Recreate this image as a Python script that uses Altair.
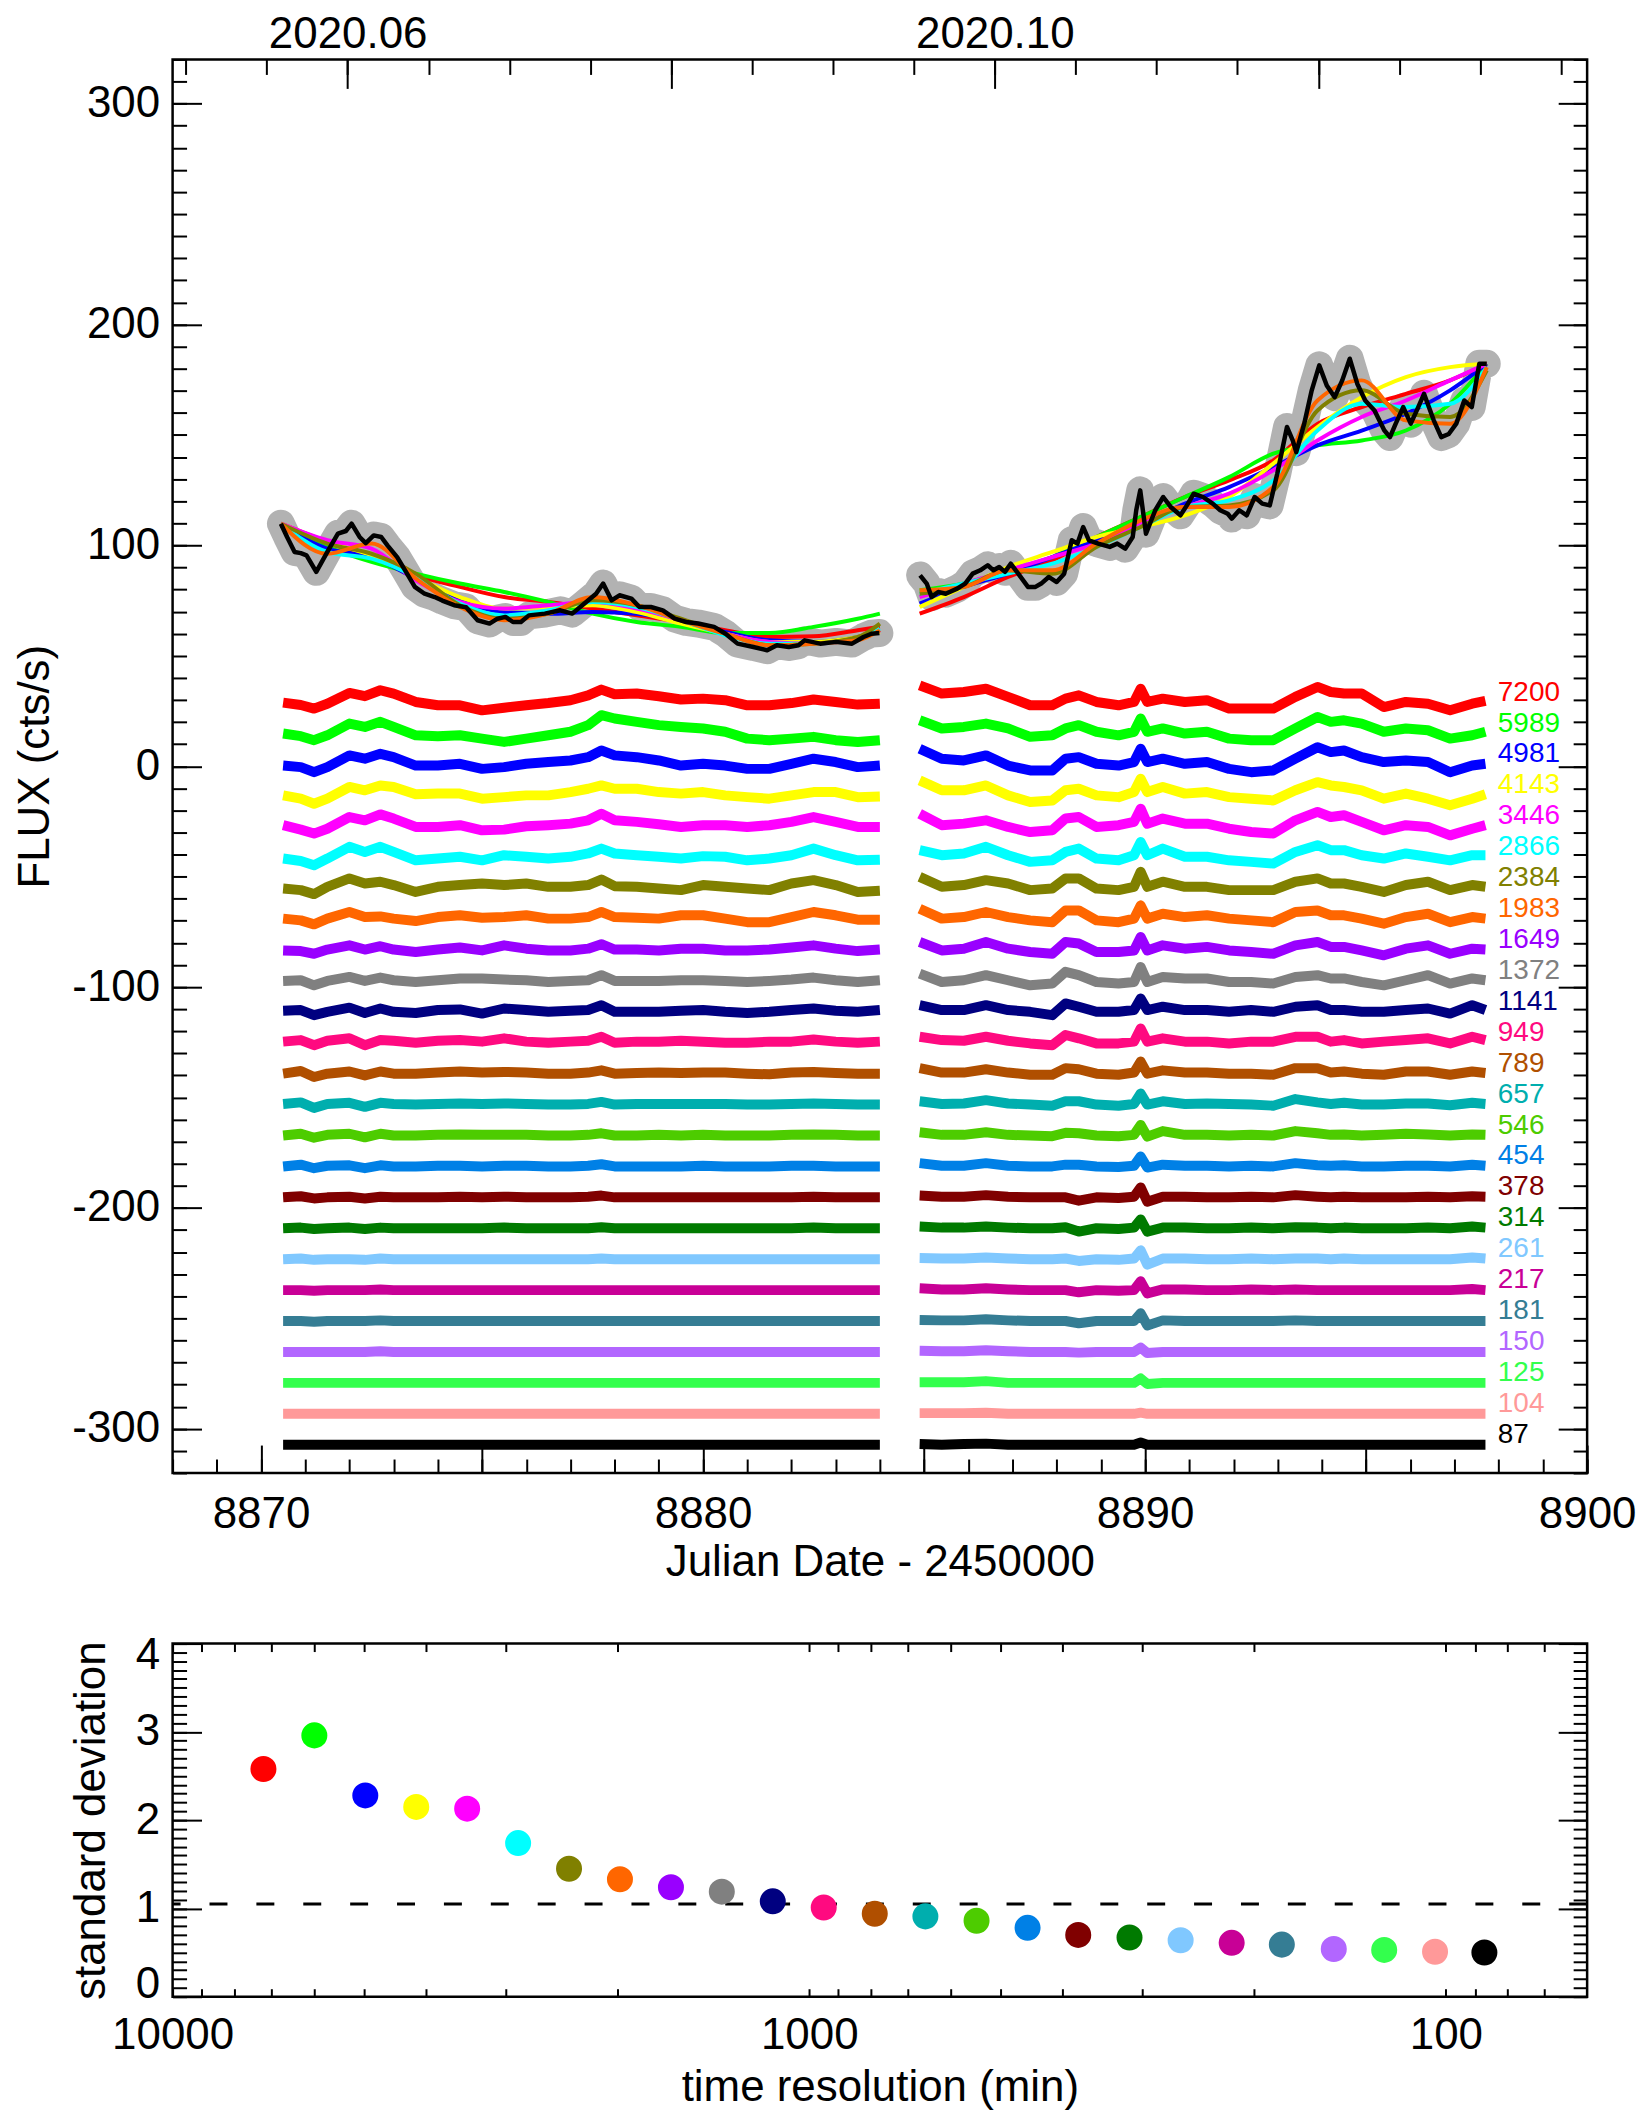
import altair as alt
import pandas as pd

FONT = "Liberation Sans"

# ---------------- data ----------------
RES = [7200, 5989, 4981, 4143, 3446, 2866, 2384, 1983, 1649, 1372, 1141, 949, 789,
       657, 546, 454, 378, 314, 261, 217, 181, 150, 125, 104, 87]
COLORS = ["#ff0000", "#00ff00", "#0000ff", "#ffff00", "#ff00ff", "#00ffff", "#808000",
          "#ff6600", "#9900ff", "#808080", "#000080", "#ff0a80", "#b04f00", "#00aeae",
          "#4dcc00", "#0080e6", "#800000", "#007a00", "#80c8ff", "#c80096", "#357d94",
          "#b266ff", "#33ff4d", "#ff9999", "#000000"]
OFFSETS = [28.8, 14.8, 0.8, -13.2, -27.2, -41.2, -55.2, -69.2, -83.2, -97.2, -111.2,
           -125.2, -139.2, -153.2, -167.2, -181.2, -195.2, -209.2, -223.2, -237.2,
           -251.2, -265.2, -279.2, -293.2, -307.2]
STD = [2.58, 2.96, 2.28, 2.15, 2.13, 1.74, 1.45, 1.33, 1.24, 1.19, 1.08, 1.01, 0.94,
       0.91, 0.86, 0.78, 0.70, 0.67, 0.64, 0.61, 0.59, 0.54, 0.53, 0.51, 0.50]
STD_LEVEL = 1.05

# black light curve (two observing segments)
LC_L_T = [8870.45, 8870.59, 8870.76, 8870.9, 8871.03, 8871.25, 8871.52, 8871.74, 8871.92,
          8872.05, 8872.23, 8872.37, 8872.55, 8872.72, 8872.86, 8873.08, 8873.26, 8873.48,
          8873.70, 8873.93, 8874.1, 8874.37, 8874.64, 8874.9, 8875.17, 8875.35, 8875.53,
          8875.7, 8875.88, 8876.06, 8876.42, 8876.77, 8877.04, 8877.31, 8877.58, 8877.74,
          8877.93, 8878.11, 8878.38, 8878.56, 8878.82, 8879.09, 8879.36, 8879.62, 8879.89,
          8880.25, 8880.51, 8880.78, 8881.14, 8881.45, 8881.67, 8881.94, 8882.16, 8882.3,
          8882.65, 8883.01, 8883.37, 8883.63, 8883.81, 8883.99]
LC_L_V = [109.8, 103.8, 97.0, 96.5, 95.5, 88.0, 97.7, 105.3, 106.5,
          109.8, 103.8, 101.0, 104.5, 103.8, 100.0, 94.7, 88.7, 81.2,
          78.1, 76.6, 75.0, 72.9, 72.0, 66.1, 64.6, 66.8, 67.6,
          65.3, 65.3, 68.3, 69.1, 70.6, 69.1, 73.6, 78.1, 82.7,
          75.1, 77.4, 75.9, 72.1, 72.1, 70.6, 66.8, 65.3, 64.6,
          63.1, 60.0, 55.5, 54.0, 52.5, 54.8, 54.0, 54.8, 57.0,
          55.5, 56.3, 55.5, 58.5, 60.0, 60.3]
LC_R_T = [8884.91, 8885.06, 8885.17, 8885.32, 8885.49, 8885.75, 8885.93, 8886.1, 8886.27,
          8886.44, 8886.57, 8886.7, 8886.83, 8886.96, 8887.13, 8887.35, 8887.52, 8887.65,
          8887.82, 8888.0, 8888.17, 8888.34, 8888.47, 8888.6, 8888.73, 8888.94, 8889.2,
          8889.37, 8889.55, 8889.72, 8889.8, 8889.89, 8890.02, 8890.23, 8890.41, 8890.58,
          8890.8, 8890.97, 8891.1, 8891.31, 8891.53, 8891.7, 8891.87, 8891.96, 8892.13,
          8892.3, 8892.48, 8892.65, 8892.82, 8892.99, 8893.21, 8893.34, 8893.42, 8893.6,
          8893.77, 8893.94, 8894.11, 8894.29, 8894.46, 8894.63, 8894.8, 8894.98, 8895.19,
          8895.41, 8895.54, 8895.67, 8895.84, 8896.01, 8896.18, 8896.31, 8896.53, 8896.7,
          8896.87, 8897.04, 8897.22, 8897.39, 8897.56, 8897.73]
LC_R_V = [86.4, 82.7, 76.6, 78.9, 78.1, 80.4, 82.7, 87.2, 88.7,
          91.0, 88.7, 90.2, 88.0, 91.7, 87.2, 81.2, 81.2, 82.7,
          85.7, 83.4, 87.2, 102.3, 100.8, 108.3, 102.3, 100.8, 99.3,
          100.8, 98.5, 103.8, 115.9, 124.9, 105.3, 115.9, 121.9, 117.4,
          113.6, 118.9, 123.4, 121.9, 118.9, 115.9, 114.3, 112.1, 115.9,
          113.6, 121.9, 118.9, 118.1, 132.4, 153.6, 147.5, 142.2, 155.1,
          170.2, 181.5, 172.4, 167.1, 174.7, 184.5, 173.2, 165.6, 161.1,
          152.1, 149.0, 155.1, 162.6, 155.1, 162.6, 168.6, 156.6, 149.0,
          150.4, 155.1, 165.6, 162.6, 182.2, 182.2]

# smooth fits of the longest time resolutions
FIT_RES = [7200, 5989, 4981, 4143, 3446, 2866, 2384, 1983]
FIT_L_T = [8870.45, 8871.5, 8872.5, 8873.5, 8874.5, 8875.5, 8876.5, 8877.5, 8878.5,
           8879.5, 8880.5, 8881.5, 8882.5, 8883.5, 8884.0]
FIT_L = [
    [109.8, 101.5, 94.0, 86.4, 81.2, 76.6, 74.4, 71.4, 68.3, 65.3, 61.6, 58.5, 58.8, 61.6, 63.1],
    [109.0, 99.3, 92.5, 87.2, 82.7, 78.9, 74.4, 69.1, 65.3, 63.1, 60.3, 60.3, 63.1, 66.8, 69.1],
    [109.0, 98.5, 94.7, 85.0, 75.0, 69.8, 69.0, 69.8, 69.0, 65.3, 60.8, 57.0, 56.3, 58.5, 61.6],
    [109.8, 101.5, 95.5, 85.7, 76.6, 71.4, 72.1, 72.9, 69.8, 64.6, 60.0, 56.3, 56.3, 58.5, 60.8],
    [109.8, 102.3, 98.5, 84.2, 74.4, 71.4, 72.9, 74.4, 71.4, 66.1, 60.0, 56.3, 55.5, 57.8, 61.6],
    [109.8, 97.0, 94.0, 85.7, 73.6, 68.3, 70.6, 74.4, 72.1, 66.1, 59.3, 55.5, 55.5, 57.8, 62.3],
    [109.8, 100.8, 96.2, 87.2, 72.9, 66.8, 69.1, 75.1, 72.9, 66.8, 60.0, 54.8, 55.5, 58.5, 64.6],
    [109.8, 96.2, 100.8, 85.0, 72.1, 66.1, 69.1, 76.6, 72.9, 66.1, 60.0, 54.8, 55.5, 57.0, 61.6],
]
FIT_R_T = [8884.9, 8885.9, 8886.9, 8887.9, 8888.9, 8889.9, 8890.9, 8891.9, 8892.9,
           8893.9, 8894.9, 8895.9, 8896.9, 8897.73]
FIT_R = [
    [69.1, 76.6, 85.7, 93.2, 103.8, 112.8, 121.9, 129.4, 138.5, 155.0, 162.6, 168.6, 174.7, 182.2],
    [79.7, 82.7, 88.7, 94.7, 103.8, 112.8, 121.9, 130.9, 141.5, 145.3, 147.5, 152.0, 164.1, 182.2],
    [73.6, 81.2, 87.2, 94.7, 102.3, 109.8, 118.9, 126.4, 135.5, 145.3, 152.0, 159.6, 170.2, 182.2],
    [72.1, 81.2, 90.2, 97.0, 103.8, 108.3, 113.6, 121.9, 137.0, 153.6, 167.1, 176.2, 180.7, 182.2],
    [76.6, 82.7, 88.7, 94.7, 100.8, 109.8, 117.4, 123.4, 134.0, 147.5, 158.1, 165.6, 174.7, 182.2],
    [78.1, 82.7, 87.2, 91.7, 99.3, 108.3, 117.4, 120.4, 129.4, 152.0, 164.1, 162.6, 164.1, 180.7],
    [78.1, 81.2, 88.7, 87.2, 99.3, 108.3, 117.4, 118.1, 124.9, 161.1, 170.2, 159.6, 158.1, 179.2],
    [79.7, 81.2, 88.7, 88.7, 100.8, 111.3, 117.4, 117.4, 126.4, 165.6, 174.7, 156.6, 155.1, 180.7],
]

# residuals (light curve minus fit), one row per time resolution
RES_L_T = [8870.5, 8870.9, 8871.2, 8871.5, 8872.0, 8872.35, 8872.7, 8873.0, 8873.5, 8874.0,
           8874.5, 8875.0, 8875.5, 8876.0, 8876.5, 8877.0, 8877.4, 8877.7, 8878.0, 8878.5,
           8879.0, 8879.5, 8880.0, 8880.5, 8881.0, 8881.5, 8882.0, 8882.5, 8883.0, 8883.5,
           8884.0]
RES_L = [
    [0, -1.1, -2.7, -0.5, 4.4, 2.9, 5.6, 4.1, 0.3, -1.2, -1.2, -3.5, -2.3, -1.2, -0.2, 1.1, 3.3, 5.9, 3.8, 4.1, 2.9, 1.4, 1.8, 1.1, -1.2, -1.2, -0.2, 1.4, 0.3, -0.9, -0.5],
    [0, -1.2, -3.0, -0.8, 4.5, 3.0, 5.3, 3.0, -0.8, -1.2, -0.8, -2.3, -3.8, -2.3, -0.8, 0.8, 3.8, 8.3, 6.8, 5.3, 3.8, 3.0, 2.3, 0.8, -2.3, -3.0, -2.3, -1.5, -3.0, -3.8, -3.0],
    [-0.5, -1.2, -3.5, -1.2, 4.1, 2.6, 4.8, 3.3, -0.5, -0.5, 0.3, -2.0, -1.2, 0.3, 1.1, 1.8, 3.3, 6.3, 4.1, 3.3, 1.8, -0.5, 0.3, -0.5, -2.0, -2.0, 0.3, 2.6, 1.1, -1.2, -0.5],
    [0, -1.5, -3.8, -1.5, 3.8, 2.3, 4.5, 3.8, 0.5, 0.8, 0.8, -1.5, -0.8, 0, 0, 1.5, 3.0, 4.5, 3.0, 3.0, 1.5, 0.8, 1.5, 0, -0.8, -1.5, 0, 1.5, 1.5, -0.8, -0.5],
    [0.5, -1.5, -3.3, -1.1, 4.2, 2.7, 5.4, 3.5, -0.3, -0.3, 0.5, -1.8, -1.5, 0, 0.5, 1.2, 2.7, 5.7, 2.7, 2.0, 0.9, -0.3, 0.5, 0.5, -0.3, 0.5, 2.0, 4.2, 2.0, -0.3, -0.3],
    [-0.6, -1.7, -3.6, -0.6, 4.7, 2.4, 4.7, 2.4, -1.4, -0.6, 0.2, -1.4, 0.9, 0.2, -0.6, 0.2, 1.7, 3.9, 1.7, 0.9, 0.2, -0.6, 0.5, 0.2, -1.4, -0.6, 0.9, 3.9, 0.9, -1.4, -1.1],
    [-0.2, -0.9, -2.7, 0.6, 4.4, 2.1, 2.9, 1.4, -1.7, 0.6, 1.4, 2.1, 1.4, 2.1, 0.6, 0.6, 1.4, 3.9, 0.9, 0.6, -0.2, -0.9, 1.4, 0.6, -0.2, -0.9, 2.1, 3.6, 1.4, -1.7, -1.2],
    [0.2, -0.6, -2.4, 0.2, 3.2, 0.9, 1.2, 0.2, -0.9, 0.9, 1.7, 0.6, 0.9, 1.7, 0.2, 0.2, 0.9, 3.2, 0.9, 0.6, 0.2, 1.7, 1.7, 0.2, -1.4, -1.4, 0.9, 3.2, 1.7, -0.3, -0.3],
    [-0.2, -0.5, -1.7, 0.2, 2.1, 0.2, 1.7, 0.2, -0.9, 0.2, 1.1, -0.2, 2.1, 0.6, -0.2, -0.2, 0.6, 2.6, 0.2, 0.2, -0.2, 0.6, 0.6, -0.2, -0.2, 0.2, 1.1, 2.1, 0.6, -0.5, 0.2],
    [0, 0.3, -2.0, 0, 1.8, 0, 1.5, 0.3, -0.5, 0.3, 1.1, 1.1, 0.6, 0.3, -0.5, 0, 0.3, 2.6, 0, 0, 0, 0.3, 0.3, 0, -0.5, 0, 0.6, 1.5, 0.3, -0.5, 0.3],
    [0.5, 0.8, -1.5, 0, 1.9, -0.5, 1.5, 0, -0.5, 0.8, 1.1, -0.8, 1.5, 0.8, 0, 0.5, 0.8, 3.0, 0, 0, 0, 0.5, 0.8, 0, -0.5, 0, 0.8, 1.5, 0.5, 0, 0.8],
    [0.5, 1.2, -1.1, 0.9, 2.0, -1.1, 1.2, 0.9, 0, 0.9, 1.2, 0.5, 2.0, 0.5, 0, 0.5, 0.9, 2.7, 0, 0.5, 0.5, 0.9, 0.5, 0, 0, 0.5, 0.5, 1.5, 0.5, 0, 0.5],
    [0, 1.2, -1.5, 0, 1.0, -0.8, 1.0, 0, 0, 0.5, 1.0, 0.5, 0.8, 0.5, 0, 0, 0.5, 1.5, 0, 0.3, 0.5, 0.3, 0.5, 0.5, 0, -0.3, 0.5, 0.8, 0.3, 0, 0],
    [0.3, 1.0, -1.5, 0.3, 0.8, -1.0, 0.8, 0.3, 0, 0.3, 0.5, 0.3, 0.5, 0.3, 0, 0, 0.3, 1.2, 0, 0.3, 0.3, 0.3, 0.3, 0.3, 0, 0, 0.3, 0.5, 0.3, 0, 0],
    [0, 0.8, -1.0, 0.3, 0.8, -0.8, 0.8, 0, 0, 0.3, 0.5, 0.3, 0.3, 0.3, 0, 0, 0.3, 1.0, 0, 0, 0.3, 0, 0.3, 0, 0, 0, 0.3, 0.5, 0.3, 0, 0],
    [0, 0.8, -0.8, 0.3, 0.5, -0.8, 0.5, 0, 0, 0.3, 0.3, 0, 0.3, 0.3, 0, 0, 0.3, 1.0, 0, 0, 0, 0, 0.3, 0, 0, 0, 0.3, 0.3, 0, 0, 0],
    [0, 0.5, -0.5, 0, 0.3, -0.5, 0.3, 0, 0, 0, 0.3, 0, 0.3, 0, 0, 0, 0.3, 0.8, 0, 0, 0, 0, 0, 0, 0, 0, 0, 0.3, 0, 0, 0],
    [0, 0.3, -0.3, 0, 0.3, -0.3, 0.3, 0, 0, 0, 0, 0, 0.3, 0, 0, 0, 0, 0.5, 0, 0, 0, 0, 0, 0, 0, 0, 0, 0.3, 0, 0, 0],
    [0, 0.3, -0.3, 0, 0, -0.3, 0.3, 0, 0, 0, 0, 0, 0, 0, 0, 0, 0, 0.3, 0, 0, 0, 0, 0, 0, 0, 0, 0, 0, 0, 0, 0],
    [0, 0, -0.3, 0, 0, 0, 0.3, 0, 0, 0, 0, 0, 0, 0, 0, 0, 0, 0, 0, 0, 0, 0, 0, 0, 0, 0, 0, 0, 0, 0, 0],
    [0, 0, -0.3, 0, 0, 0, 0.3, 0, 0, 0, 0, 0, 0, 0, 0, 0, 0, 0, 0, 0, 0, 0, 0, 0, 0, 0, 0, 0, 0, 0, 0],
    [0, 0, 0, 0, 0, 0, 0.3, 0, 0, 0, 0, 0, 0, 0, 0, 0, 0, 0, 0, 0, 0, 0, 0, 0, 0, 0, 0, 0, 0, 0, 0],
    [0, 0, 0, 0, 0, 0, 0, 0, 0, 0, 0, 0, 0, 0, 0, 0, 0, 0, 0, 0, 0, 0, 0, 0, 0, 0, 0, 0, 0, 0, 0],
    [0, 0, 0, 0, 0, 0, 0, 0, 0, 0, 0, 0, 0, 0, 0, 0, 0, 0, 0, 0, 0, 0, 0, 0, 0, 0, 0, 0, 0, 0, 0],
    [0, 0, 0, 0, 0, 0, 0, 0, 0, 0, 0, 0, 0, 0, 0, 0, 0, 0, 0, 0, 0, 0, 0, 0, 0, 0, 0, 0, 0, 0, 0],
]
RES_R_T = [8884.9, 8885.4, 8885.9, 8886.4, 8886.9, 8887.4, 8887.9, 8888.2, 8888.5, 8888.9,
           8889.4, 8889.75, 8889.9, 8890.05, 8890.4, 8890.9, 8891.4, 8891.9, 8892.4, 8892.9,
           8893.4, 8893.9, 8894.2, 8894.5, 8894.9, 8895.4, 8895.9, 8896.4, 8896.9, 8897.4,
           8897.7]
RES_R = [
    [7.8, 4.1, 4.8, 6.3, 2.6, -1.2, -1.2, 1.8, 3.3, 0.3, -1.2, 0.3, 6.3, 0.3, 1.8, 0.3, 1.1, -2.7, -2.7, -2.7, 2.6, 7.1, 4.8, 4.1, 4.1, -2.0, 0.3, -0.5, -3.5, -0.5, 0.8],
    [6.0, 2.3, 3.0, 4.5, 2.3, -1.5, -0.8, 2.3, 3.8, 0.8, -0.8, 0.8, 6.8, 0.8, 2.3, 0, 0.8, -2.3, -3.0, -3.0, 2.3, 7.5, 5.3, 6.0, 4.5, 0.8, 2.3, 1.5, -2.3, -0.8, 0.8],
    [7.1, 2.6, 1.8, 4.1, -0.5, -2.7, -2.7, 2.6, 3.3, 0.3, -0.5, 1.1, 7.1, 1.1, 2.6, 0.3, 1.1, -2.0, -3.5, -2.7, 2.6, 7.8, 5.6, 6.3, 3.3, 1.1, 1.8, 1.1, -3.5, -0.5, 0.3],
    [6.8, 2.3, 2.3, 4.5, 0, -3.0, -2.3, 2.3, 3.0, 0, -0.8, 1.5, 7.5, 1.5, 3.8, 0.8, 1.5, -0.8, -1.5, -2.3, 2.3, 6.0, 4.5, 3.8, 2.3, -1.5, 0.8, -1.5, -4.5, -1.5, 0.5],
    [5.7, 0.5, 1.2, 2.7, -0.3, -2.6, -1.8, 3.5, 4.2, -0.3, 0.5, 2.0, 8.0, 1.2, 3.5, 1.2, 1.2, -1.1, -2.6, -3.3, 2.7, 6.5, 4.2, 5.0, 2.0, -1.8, 0.5, -0.3, -4.1, -1.1, 0.5],
    [3.2, 0.9, 1.7, 4.7, 0.9, -2.1, -1.4, 2.4, 3.9, -0.6, -1.4, 0.9, 6.9, 0.9, 3.9, 0.2, 0.2, -1.4, -2.1, -2.9, 2.4, 5.4, 3.2, 3.2, 0.9, -0.6, 1.7, 0.2, -1.4, 0.9, 0.9],
    [5.1, 0.6, 1.4, 3.6, 2.1, -0.9, -0.2, 4.4, 4.4, -0.2, -0.9, 0.6, 7.4, 0.6, 2.9, 0.6, 0.6, -0.9, -0.9, -0.9, 2.9, 4.4, 2.1, 2.1, 0.6, -1.7, 1.4, 2.9, -0.9, 1.4, 0.6],
    [4.7, 0.2, 0.9, 3.2, 0.9, -0.6, -1.4, 3.9, 3.9, -0.6, -1.4, 0.2, 6.2, 0.2, 2.4, 0.9, 1.7, 0.2, -0.6, -1.4, 3.2, 3.9, 1.7, 1.7, 0.2, -2.1, 0.9, 2.4, -1.4, 0.9, 0.2],
    [3.6, -0.2, 0.6, 3.6, 0.6, -0.9, -1.7, 3.6, 2.9, -0.9, -0.9, -0.2, 5.9, -0.2, 2.1, 0.6, 1.4, -0.2, -0.9, -1.7, 2.1, 3.6, 1.4, 1.4, -0.2, -2.4, 0.6, 2.1, -1.7, 0.6, 0.2],
    [3.3, -0.5, 0.3, 2.6, 0.3, -2.0, -1.2, 4.1, 2.6, -0.5, -1.2, -0.5, 6.3, -0.5, 1.8, 1.1, 1.1, -0.5, -0.5, -1.2, 1.8, 2.6, 1.1, 1.1, -0.5, -2.0, 0.3, 2.6, -1.2, 1.1, 0.3],
    [3.0, 0.8, 0.8, 3.0, 0.8, 0, -1.5, 3.8, 2.3, 0, 0, 0.8, 6.0, 0.8, 2.3, 0.8, 0.8, 0, 0.8, 0, 2.3, 3.0, 0.8, 0.8, 0, 0, 0.8, 1.5, -0.8, 3.0, 0.8],
    [2.7, 1.2, 0.9, 2.7, 0.9, -0.3, -1.1, 3.5, 2.0, -0.3, -0.3, 0.5, 6.5, 0.5, 2.0, 0.5, 0.5, -0.3, 0.5, 0.5, 2.7, 2.7, 0.5, 1.2, -0.3, 0.5, 1.2, 2.0, -0.3, 2.7, 1.2],
    [2.5, 0.5, 0.5, 2.0, 0.5, -0.5, -0.5, 2.5, 2.0, 0, -0.5, 0.5, 5.5, 0, 1.5, 0.5, 0.5, 0, 0, -0.5, 2.5, 2.5, 0.5, 1.0, 0, -0.5, 1.0, 1.0, -0.5, 1.0, 0.3],
    [1.5, 0.3, 0.5, 2.0, 0.5, 0, -0.5, 1.5, 1.5, 0, -0.5, 0.3, 5.0, 0, 1.5, 0.3, 0.5, 0.3, 0, -0.5, 2.5, 1.0, 0.3, 0.8, 0, 0, 0.5, 0.5, -0.3, 0.8, 0.3],
    [1.5, 0.3, 0.3, 1.5, 0.3, 0, -0.3, 1.2, 1.0, 0, -0.3, 0.3, 4.8, -0.5, 2.0, 0.3, 0.3, 0, 0.3, 0, 2.0, 1.0, 0.3, 0.5, 0, 0.3, 0.8, 0.5, 0, 0.5, 0.3],
    [1.5, 0.3, 0.3, 1.5, 0.3, 0, 0, 0.8, 0.8, 0, -0.3, 0.3, 4.5, -0.5, 0.8, 0.3, 0.3, 0, 0.3, 0, 1.5, 0.5, 0.3, 0.5, 0, 0, 0.3, 0.3, 0, 0.8, 0.3],
    [0.8, 0.3, 0.3, 1.0, 0.3, 0, 0, 0, -1.5, 0, -0.3, 0.3, 4.5, -2.0, 0.3, 0.3, 0, 0, 0.3, 0, 1.0, 0.3, 0, 0.3, 0, 0, 0, 0.3, 0, 0.5, 0.3],
    [0.8, 0.3, 0.3, 0.8, 0.3, 0, 0, 0.5, -1.5, 0, -0.3, 0.3, 4.0, -1.5, 0.3, 0.3, 0, 0, 0.3, 0, 0.5, 0.3, 0, 0.3, 0, 0, 0, 0.3, 0, 0.8, 0.3],
    [0.5, 0.3, 0.3, 0.8, 0.3, 0, 0, 0.3, -0.8, 0, -0.3, 0.3, 4.0, -2.5, 0.3, 0.3, 0, 0, 0.3, 0, 0.3, 0.3, 0, 0.3, 0, 0, 0, 0, 0, 0.8, 0.3],
    [0.8, 0.3, 0.3, 0.8, 0.3, 0, 0, 0, -1.0, 0, -0.3, 0, 4.0, -1.5, 0.3, 0.3, 0, 0, 0.3, 0, 0.3, 0, 0, 0, 0, 0, 0, 0, 0, 0.5, 0],
    [0.5, 0.3, 0.3, 0.8, 0.3, 0, 0, 0, -1.0, 0, 0, 0, 3.5, -2.0, 0.3, 0, 0, 0, 0, 0, 0.3, 0, 0, 0, 0, 0, 0, 0, 0, 0, 0],
    [0.5, 0.3, 0.3, 0.8, 0.3, 0, 0, 0, -0.3, 0, 0, 0, 2.0, -0.5, 0, 0, 0, 0, 0, 0, 0, 0, 0, 0, 0, 0, 0, 0, 0, 0, 0],
    [0.3, 0.3, 0.3, 0.8, 0, 0, 0, 0, 0, 0, 0, 0, 2.0, -0.5, 0, 0, 0, 0, 0, 0, 0, 0, 0, 0, 0, 0, 0, 0, 0, 0, 0],
    [0.3, 0.3, 0.3, 0.5, 0, 0, 0, 0, 0, 0, 0, 0, 0.5, 0, 0, 0, 0, 0, 0, 0, 0, 0, 0, 0, 0, 0, 0, 0, 0, 0, 0],
    [0.3, 0, 0.3, 0.5, 0, 0, 0, 0, 0, 0, 0, 0, 1.0, 0, 0, 0, 0, 0, 0, 0, 0, 0, 0, 0, 0, 0, 0, 0, 0, 0, 0],
]

# top axis: calendar (decimal year) ticks
DATE_MAJOR = [2020.06, 2020.08, 2020.10, 2020.12]
DATE_LABELED = ["2020.06", "2020.10"]
DATE_MINOR = [2020.05, 2020.055, 2020.06, 2020.065, 2020.07, 2020.075, 2020.08, 2020.085,
              2020.09, 2020.095, 2020.10, 2020.105, 2020.11, 2020.115, 2020.12, 2020.125,
              2020.13, 2020.135]
JD_AT_2020 = 8850.0
DAYS_PER_YEAR = 366.0

# ---------------- sanity ----------------
assert len(LC_L_T) == len(LC_L_V) and len(LC_R_T) == len(LC_R_V)
for row in FIT_L:
    assert len(row) == len(FIT_L_T)
for row in FIT_R:
    assert len(row) == len(FIT_R_T)
for row in RES_L:
    assert len(row) == len(RES_L_T)
for row in RES_R:
    assert len(row) == len(RES_R_T)
assert len(RES_L) == len(RES) == len(RES_R) == len(COLORS) == len(OFFSETS) == len(STD)

# ---------------- tables ----------------
lc_rows = [{"t": t, "v": v, "seg": "a"} for t, v in zip(LC_L_T, LC_L_V)]
lc_rows += [{"t": t, "v": v, "seg": "b"} for t, v in zip(LC_R_T, LC_R_V)]
lc_df = pd.DataFrame(lc_rows)

fit_rows = []
for r, rowl, rowr in zip(FIT_RES, FIT_L, FIT_R):
    fit_rows += [{"t": t, "v": v, "res": str(r), "key": f"{r}a"} for t, v in zip(FIT_L_T, rowl)]
    fit_rows += [{"t": t, "v": v, "res": str(r), "key": f"{r}b"} for t, v in zip(FIT_R_T, rowr)]
fit_df = pd.DataFrame(fit_rows)

res_rows = []
for i, r in enumerate(RES):
    off = OFFSETS[i]
    res_rows += [{"t": t, "v": off + d, "res": str(r), "key": f"{r}a"}
                 for t, d in zip(RES_L_T, RES_L[i])]
    res_rows += [{"t": t, "v": off + d, "res": str(r), "key": f"{r}b"}
                 for t, d in zip(RES_R_T, RES_R[i])]
res_df = pd.DataFrame(res_rows)

LABEL_T = 8897.98
LABEL_DY = 4.5
lab_df = pd.DataFrame({"t": [LABEL_T] * len(RES),
                       "v": [o + LABEL_DY for o in OFFSETS],
                       "res": [str(r) for r in RES]})

std_df = pd.DataFrame({"res": RES, "std": STD, "name": [str(r) for r in RES]})
lvl_df = pd.DataFrame({"y": [STD_LEVEL]})

# ---------------- scales / axes ----------------
XS = alt.Scale(domain=[8868, 8900], nice=False, zero=False)
YS = alt.Scale(domain=[-320, 320], nice=False, zero=False)
COL = alt.Scale(domain=[str(r) for r in RES], range=COLORS)


def ax(**kw):
    base = dict(grid=False, domain=False, tickColor="black", tickWidth=2,
                labelFont=FONT, labelFontSize=44, labelColor="black",
                titleFont=FONT, titleFontSize=44, titleFontWeight="normal",
                titleColor="black", labelOverlap=False)
    base.update(kw)
    return alt.Axis(**base)


jd_major = [8870, 8875, 8880, 8885, 8890, 8895, 8900]
jd_minor = list(range(8868, 8901))
date_major_jd = [JD_AT_2020 + (d - 2020.0) * DAYS_PER_YEAR for d in DATE_MAJOR]
date_minor_jd = [JD_AT_2020 + (d - 2020.0) * DAYS_PER_YEAR for d in DATE_MINOR]
lab_parts = []
for d, jd in zip(DATE_MAJOR, date_major_jd):
    s = f"{d:.2f}"
    if s in DATE_LABELED:
        lab_parts.append(f"abs(datum.value - {jd}) < 0.01 ? '{s}' : ")
date_expr = "".join(lab_parts) + "''"

ax_x_bot = ax(orient="bottom", values=jd_major, tickSize=28, offset=-28, labelPadding=20,
              labelFlush=False,
              labelExpr="datum.value % 10 == 0 ? '' + datum.value : ''",
              title="Julian Date - 2450000", titlePadding=4)
ax_x_bot_min = ax(orient="bottom", values=jd_minor, tickSize=14, offset=-14, labels=False, title=None)
ax_x_top = ax(orient="top", values=date_major_jd, tickSize=29, offset=-29, labelPadding=3,
              labelFlush=False, labelExpr=date_expr, title=None)
ax_x_top_min = ax(orient="top", values=date_minor_jd, tickSize=15, offset=-15, labels=False, title=None)

y_major = [-300, -200, -100, 0, 100, 200, 300]
y_minor = list(range(-320, 321, 10))
ax_y_left = ax(orient="left", values=y_major, tickSize=29, offset=-29, labelPadding=13,
               labelExpr="'' + datum.value", title="FLUX (cts/s)", titlePadding=14)
ax_y_left_min = ax(orient="left", values=y_minor, tickSize=14, offset=-14, labels=False, title=None)
ax_y_right = ax(orient="right", values=y_major, tickSize=29, offset=-29, labels=False, title=None)
ax_y_right_min = ax(orient="right", values=y_minor, tickSize=14, offset=-14, labels=False, title=None)

gray = alt.Chart(lc_df).mark_line(color="#b2b2b2", strokeWidth=28, strokeCap="round",
                                  strokeJoin="round").encode(
    x=alt.X("t:Q", scale=XS, axis=ax_x_bot),
    y=alt.Y("v:Q", scale=YS, axis=ax_y_left),
    detail="seg:N")

fits = alt.Chart(fit_df).mark_line(strokeWidth=4, interpolate="monotone").encode(
    x=alt.X("t:Q", scale=XS, axis=ax_x_bot_min),
    y=alt.Y("v:Q", scale=YS, axis=ax_y_left_min),
    color=alt.Color("res:N", scale=COL, legend=None),
    detail="key:N")

black = alt.Chart(lc_df).mark_line(color="black", strokeWidth=4.5, strokeJoin="round").encode(
    x=alt.X("t:Q", scale=XS, axis=ax_x_top),
    y=alt.Y("v:Q", scale=YS, axis=ax_y_right),
    detail="seg:N")

resid = alt.Chart(res_df).mark_line(strokeWidth=10, strokeJoin="round").encode(
    x=alt.X("t:Q", scale=XS, axis=ax_x_top_min),
    y=alt.Y("v:Q", scale=YS, axis=ax_y_right_min),
    color=alt.Color("res:N", scale=COL, legend=None),
    detail="key:N")

labels = alt.Chart(lab_df).mark_text(align="left", baseline="middle", font=FONT,
                                     fontSize=28).encode(
    x=alt.X("t:Q", scale=XS, axis=None),
    y=alt.Y("v:Q", scale=YS, axis=None),
    text="res:N",
    color=alt.Color("res:N", scale=COL, legend=None))

top = alt.layer(gray, fits, black, resid, labels).resolve_axis(
    x="independent", y="independent").properties(width=1418, height=1417)

# ---------------- bottom panel ----------------
XL = alt.Scale(type="log", domain=[60, 10000], reverse=True, nice=False)
YB = alt.Scale(domain=[0, 4], nice=False, zero=False)
log_ticks = [10000, 9000, 8000, 7000, 6000, 5000, 4000, 3000, 2000, 1000, 900, 800, 700,
             600, 500, 400, 300, 200, 100, 90, 80, 70]
log_labels = [10000, 1000, 100]
log_expr = " || ".join(f"datum.value == {v}" for v in log_labels) + " ? '' + datum.value : ''"

bx_bot = ax(orient="bottom", values=log_ticks, tickSize=8, offset=-8, labelPadding=17,
            labelFlush=False, labelExpr=log_expr, title="time resolution (min)", titlePadding=8)
bx_top = ax(orient="top", values=log_ticks, tickSize=8, offset=-8, labels=False, title=None)
by_major = [0, 1, 2, 3, 4]
by_minor = [i / 10 for i in range(0, 41)]
by_left = ax(orient="left", values=by_major, tickSize=29, offset=-29, labelPadding=13,
             labelFlush=True, labelFlushOffset=10, title="standard deviation", titlePadding=22)
by_left_min = ax(orient="left", values=by_minor, tickSize=14, offset=-14, labels=False, title=None)
by_right = ax(orient="right", values=by_major, tickSize=29, offset=-29, labels=False, title=None)
by_right_min = ax(orient="right", values=by_minor, tickSize=14, offset=-14, labels=False, title=None)

dots = alt.Chart(std_df).mark_circle(size=680, opacity=1).encode(
    x=alt.X("res:Q", scale=XL, axis=bx_bot),
    y=alt.Y("std:Q", scale=YB, axis=by_left),
    color=alt.Color("name:N", scale=COL, legend=None))

level = alt.Chart(lvl_df).mark_rule(color="black", strokeWidth=3, strokeDash=[18, 29]).encode(
    y=alt.Y("y:Q", scale=YB, axis=by_left_min))

carrier1 = alt.Chart(std_df).mark_point(opacity=0).encode(
    x=alt.X("res:Q", scale=XL, axis=bx_top),
    y=alt.Y("std:Q", scale=YB, axis=by_right))
carrier2 = alt.Chart(std_df).mark_point(opacity=0).encode(
    x=alt.X("res:Q", scale=XL, axis=None),
    y=alt.Y("std:Q", scale=YB, axis=by_right_min))

bottom = alt.layer(level, dots, carrier1, carrier2).resolve_axis(
    x="independent", y="independent").properties(width=1418, height=354)

chart = alt.vconcat(top, bottom, spacing=45).properties(
    padding={"left": 4, "top": 0, "right": 0, "bottom": 0},
    background="white"
).configure_view(stroke="black", strokeWidth=2.5)

chart.save("out.html", embed_options={"renderer": "svg", "actions": False})
